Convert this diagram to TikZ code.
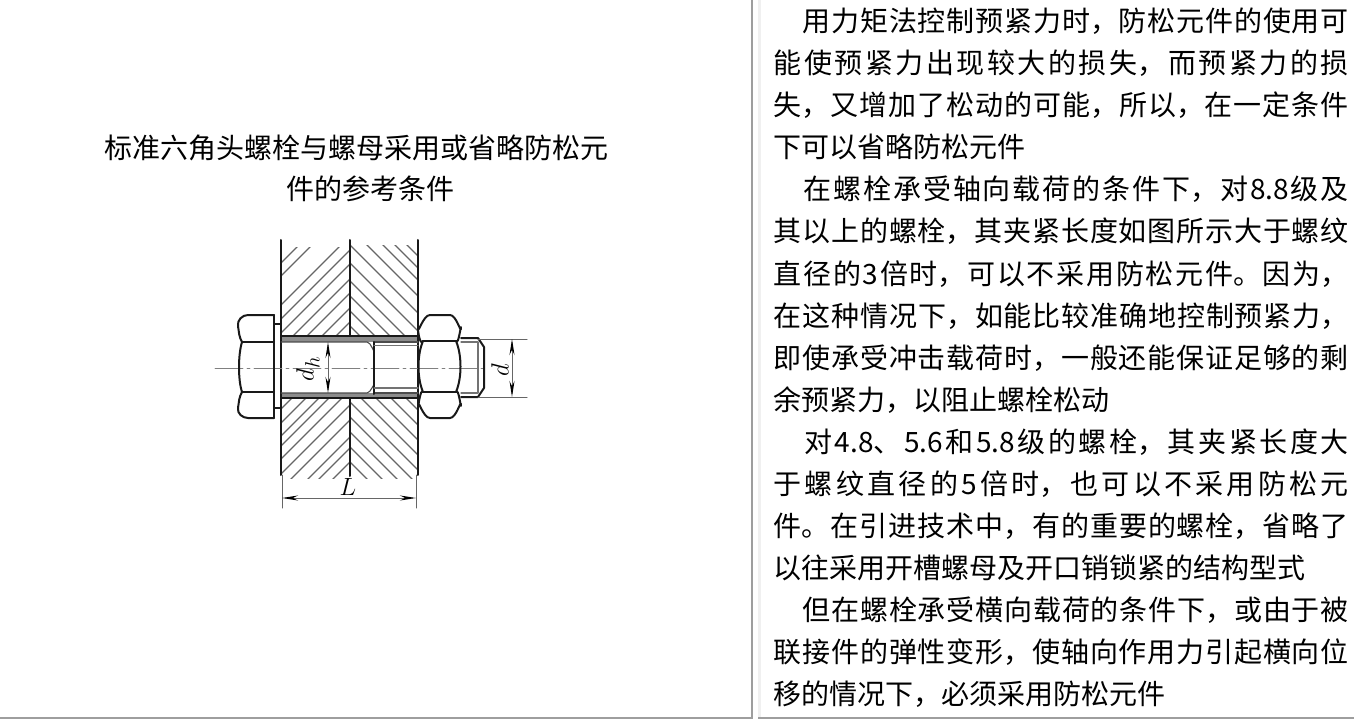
\documentclass[tikz,border=0pt]{standalone}
\usepackage{fontspec}
\setmainfont{Noto Sans CJK SC}
\XeTeXlinebreaklocale "zh"
\XeTeXlinebreakskip=0pt plus 20pt
\usetikzlibrary{arrows.meta}
\newcommand{\fullline}[1]{\parbox[b]{575pt}{\parfillskip=0pt\relax #1\par}}
\tikzset{
	bodyline/.style={anchor=base west, inner sep=0pt, font=\fontsize{28}{28}\selectfont},
	caption/.style={anchor=base, inner sep=0pt, font=\fontsize{28}{28}\selectfont},
	part/.style={line width=2pt, black!90},
	hatch/.style={line width=1.1pt, black!60},
	thin part/.style={line width=1.1pt, black!55},
	dim/.style={line width=1pt, black!60},
	dimtip/.style={{Stealth[length=16pt,width=5pt,color=black]}-{Stealth[length=16pt,width=5pt,color=black]}, line width=1pt, black!60},
	dimlabel/.style={inner sep=0pt, font=\fontsize{28}{28}\selectfont}
}
\begin{document}
\begin{tikzpicture}[x=1pt, y=-1pt, line join=round, line cap=round]
	\useasboundingbox (0,0) rectangle (1354,719);
	% panel frames
	\fill[black!38] (751,0) rectangle (753,719);
	\fill[black!38] (0,716.5) rectangle (753,719);
	\fill[black!38] (758,716.5) rectangle (1354,719);
	\fill[black!6] (758,0) rectangle (761,716.5);
	% caption
	\node[caption] (capA) at (356,159) {标准六角头螺栓与螺母采用或省略防松元};
	\node[caption] (capB) at (370,200) {件的参考条件};
	% right text, justified lines
	\foreach \n/\txt in {1/　用力矩法控制预紧力时，防松元件的使用可,
		2/能使预紧力出现较大的损失，而预紧力的损,
		3/失，又增加了松动的可能，所以，在一定条件,
		5/　在螺栓承受轴向载荷的条件下，对8.8级及,
		6/其以上的螺栓，其夹紧长度如图所示大于螺纹,
		7/直径的3倍时，可以不采用防松元件。因为，,
		8/在这种情况下，如能比较准确地控制预紧力，,
		9/即使承受冲击载荷时，一般还能保证足够的剩,
		11/　对4.8、5.6和5.8级的螺栓，其夹紧长度大,
		12/于螺纹直径的5倍时，也可以不采用防松元,
		13/件。在引进技术中，有的重要的螺栓，省略了,
		15/　但在螺栓承受横向载荷的条件下，或由于被,
		16/联接件的弹性变形，使轴向作用力引起横向位}
		\node[bodyline] (line\n) at (773.5,{32+42*(\n-1)}) {\fullline{\txt}};
	% right text, short lines
	\foreach \n/\txt in {4/下可以省略防松元件,10/余预紧力，以阻止螺栓松动,
		14/以往采用开槽螺母及开口销锁紧的结构型式,17/移的情况下，必须采用防松元件}
		\node[bodyline] (line\n) at (773.5,{32+42*(\n-1)}) {\txt};
	% hatching of the two plates
	\begin{scope}
		\clip (282,248) rectangle (350,336);
		\foreach \c in {544,557,586,600,614,629,643,658,672,685}
			\draw[hatch] (\c-340,340) -- (\c-230,230);
	\end{scope}
	\begin{scope}
		\clip (350,246) rectangle (417,336);
		\foreach \c in {24,39,54,69,87,105,122,138,150,162}
			\draw[hatch] (\c+230,230) -- (\c+340,340);
	\end{scope}
	\begin{scope}
		\clip (282,399) rectangle (350,478);
		\foreach \c in {690,704,717,727,740,755,770,787,798,812}
			\draw[hatch] (\c-480,480) -- (\c-395,395);
	\end{scope}
	\begin{scope}
		\clip (350,399) rectangle (417,478);
		\foreach \c in {-112,-97,-82,-67,-52,-37,-22,-7,8}
			\draw[hatch] (\c+395,395) -- (\c+480,480);
	\end{scope}
	% clearance between bolt and hole
	\fill[black!45] (281,336) rectangle (418,341.5);
	\fill[black!45] (281,393) rectangle (418,398);
	% plates
	\draw[part] (281,240) -- (281,475);
	\draw[part] (350,240) -- (350,336);
	\draw[part] (350,399) -- (350,476);
	\draw[part] (418,240) -- (418,475);
	\draw[part] (281,335.5) -- (418,335.5);
	\draw[part] (281,398) -- (418,398);
	% centre line
	\draw[line width=0.8pt, black!50, dash pattern=on 28pt off 4pt on 3pt off 4pt] (215,368) -- (484,368);
	% bolt shank
	\draw[line width=1.1pt, black!70] (281,342) -- (367,342) to[out=0,in=-90] (374,350) -- (374,386) to[out=90,in=0] (367,393) -- (281,393);
	\draw[line width=1.1pt, black!70] (374,342) -- (418,342);
	\draw[line width=1.1pt, black!70] (374,393) -- (418,393);
	\draw[part] (374,342) -- (374,394);
	\draw[thin part] (374,345.5) -- (418,345.5);
	\draw[thin part] (374,388) -- (418,388);
	% bolt head
	\draw[part] (274,315) -- (248,315) to[out=180,in=100] (238,326) to[out=-80,in=120] (242,342);
	\draw[part] (242,342) .. controls (238,355) and (238,380) .. (242,392);
	\draw[part] (274,418) -- (248,418) to[out=180,in=-100] (238,408) to[out=80,in=-120] (242,392);
	\draw[part] (274,315) -- (274,418);
	\draw[part] (242,342) -- (274,342);
	\draw[part] (242,392) -- (274,392);
	\draw[part] (274,324) -- (281,324);
	\draw[part] (274,408) -- (281,408);
	% nut
	\draw[part] (423,341) to[out=-120,in=-90] (418,328) to[out=-90,in=180] (430,315) -- (450,315) to[out=0,in=-90] (461,328) to[out=90,in=-60] (456,341);
	\draw[part] (423,392) to[out=120,in=-90] (418,405) to[out=90,in=180] (430,418) -- (450,418) to[out=0,in=90] (461,405) to[out=-90,in=60] (456,392);
	\draw[part] (423,341) .. controls (417,355) and (417,378) .. (423,392);
	\draw[part] (456,341) .. controls (462,355) and (462,378) .. (456,392);
	\draw[part] (423,341) -- (456,341);
	\draw[part] (423,392) -- (456,392);
	% bolt end
	\draw[part] (461,338) -- (478,338) -- (484,347) -- (484,388) -- (478,397) -- (461,397);
	\draw[thin part] (461,342) -- (478,342) -- (478,393) -- (461,393);
	% dimensions
	\coordinate (dhTop) at (328,342);
	\coordinate (dhBot) at (328,393);
	\coordinate (dTop) at (512,339);
	\coordinate (dBot) at (512,397);
	\coordinate (lLeft) at (282,498);
	\coordinate (lRight) at (416,498);
	\draw[dim] (478,339) -- (527,339);
	\draw[dim] (478,397) -- (527,397);
	\draw[dim] (282,475) -- (282,508);
	\draw[dim] (416,475) -- (416,508);
	\draw[dimtip] (dhTop) -- (dhBot);
	\draw[dimtip] (dTop) -- (dBot);
	\draw[dimtip] (lLeft) -- (lRight);
	\node[dimlabel, rotate=90] (labelDh) at (308,369) {$d_h$};
	\node[dimlabel, rotate=90] (labelD) at (500,370) {$d$};
	\node[dimlabel] (labelL) at (348,487) {$L$};
\end{tikzpicture}
\end{document}
